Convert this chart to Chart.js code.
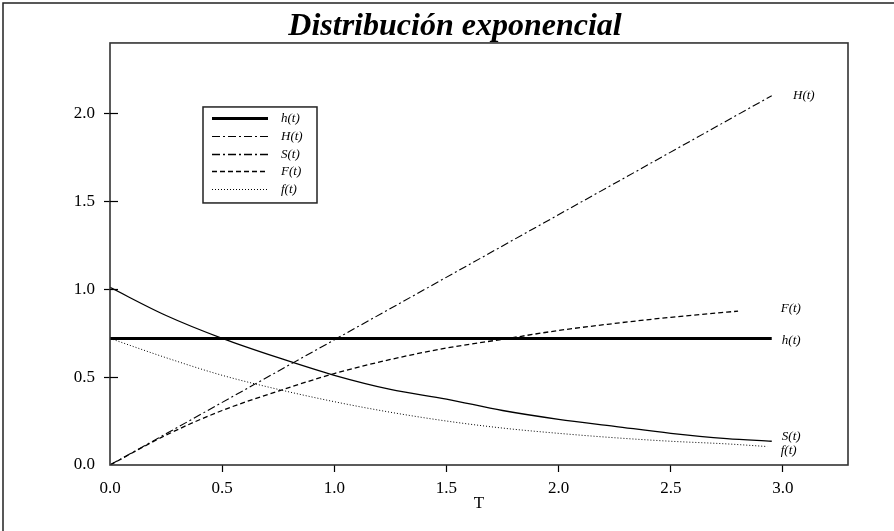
<!DOCTYPE html>
<html>
<head>
<meta charset="utf-8">
<script src="https://cdn.jsdelivr.net/npm/chart.js@4.4.1/dist/chart.umd.min.js"></script>
<style>
html,body{margin:0;padding:0;background:#fff;}
#wrap{width:894px;height:531px;}
</style>
</head>
<body>
<div id="wrap"><canvas id="c" width="894" height="531"></canvas></div>
<script>
// ---------- data ----------
const chartTitle = 'Distribución exponencial';
const xAxisTitle = 'T';
const seriesLabels = ['h(t)', 'H(t)', 'S(t)', 'F(t)', 'f(t)'];

const t_h = [0, 2.95];
const h_vals = [0.72, 0.72];

const t_H = [0, 2.95];
const H_vals = [0, 2.10];

const t_S = [0, 0.25, 0.5, 0.75, 1.0, 1.25, 1.5, 1.75, 2.0, 2.25, 2.5, 2.75, 2.95];
const S_vals = [1.01, 0.85, 0.72, 0.61, 0.51, 0.43, 0.375, 0.31, 0.26, 0.22, 0.18, 0.15, 0.135];

const t_F = [0, 0.25, 0.5, 0.75, 1.0, 1.25, 1.5, 1.75, 2.0, 2.25, 2.5, 2.8];
const F_vals = [0, 0.17, 0.31, 0.42, 0.52, 0.60, 0.665, 0.715, 0.765, 0.805, 0.84, 0.875];

const t_f = [0, 0.25, 0.5, 0.75, 1.0, 1.25, 1.5, 1.75, 2.0, 2.25, 2.5, 2.75, 2.93];
const f_vals = [0.72, 0.61, 0.51, 0.43, 0.36, 0.30, 0.25, 0.21, 0.18, 0.155, 0.135, 0.12, 0.105];

// end-of-curve labels (data coordinates)
const endLabelText = ['H(t)', 'F(t)', 'h(t)', 'S(t)', 'f(t)'];
const endLabelX = [3.045, 2.99, 2.995, 2.995, 2.99];
const endLabelY = [2.10, 0.89, 0.705, 0.16, 0.08];

const xMin = 0, xMax = 3.29, yMin = 0, yMax = 2.4, tickStep = 0.5;

// ---------- helpers ----------
const pts = (xs, ys) => xs.map((x, i) => ({x: x, y: ys[i]}));
const SERIF = '"Liberation Serif", "Times New Roman", serif';

const datasets = [
  {label: seriesLabels[0], data: pts(t_h, h_vals), borderWidth: 3, borderDash: []},
  {label: seriesLabels[1], data: pts(t_H, H_vals), borderWidth: 1.1, borderDash: [8, 3, 2, 3]},
  {label: seriesLabels[2], data: pts(t_S, S_vals), borderWidth: 1.3, borderDash: [], legendDash: [8, 3, 2, 3]},
  {label: seriesLabels[3], data: pts(t_F, F_vals), borderWidth: 1.3, borderDash: [5, 3]},
  {label: seriesLabels[4], data: pts(t_f, f_vals), borderWidth: 1, borderDash: [1, 2]}
].map(d => Object.assign({
  borderColor: '#000', backgroundColor: '#000', pointRadius: 0, fill: false,
  cubicInterpolationMode: 'monotone', borderCapStyle: 'butt'
}, d));

const decorPlugin = {
  id: 'decor',
  beforeDraw(chart) {
    const ctx = chart.ctx;
    ctx.save();
    ctx.fillStyle = '#fff';
    ctx.fillRect(0, 0, chart.width, chart.height);
    ctx.restore();
  },
  afterDraw(chart) {
    const ctx = chart.ctx;
    const a = chart.chartArea;
    const xs = chart.scales.x, ys = chart.scales.y;
    ctx.save();
    // outer border (top + left)
    ctx.strokeStyle = '#222';
    ctx.lineWidth = 1.5;
    ctx.beginPath();
    ctx.moveTo(3, chart.height);
    ctx.lineTo(3, 3);
    ctx.lineTo(chart.width, 3);
    ctx.stroke();
    // plot frame
    ctx.strokeStyle = '#333';
    ctx.lineWidth = 1.6;
    ctx.strokeRect(a.left, a.top, a.right - a.left, a.bottom - a.top);
    // inward y ticks
    ctx.strokeStyle = '#000';
    ctx.lineWidth = 1.2;
    ys.ticks.forEach(tk => {
      if (tk.value === 0) return;
      const py = Math.round(ys.getPixelForValue(tk.value)) + 0.5;
      ctx.beginPath();
      ctx.moveTo(a.left, py);
      ctx.lineTo(a.left + 8, py);
      ctx.stroke();
    });
    // end labels
    ctx.fillStyle = '#000';
    ctx.font = 'italic 13px ' + SERIF;
    ctx.textAlign = 'left';
    ctx.textBaseline = 'middle';
    endLabelText.forEach((txt, i) => {
      ctx.fillText(txt, xs.getPixelForValue(endLabelX[i]), ys.getPixelForValue(endLabelY[i]));
    });
    // legend box
    const lx = a.left + 93, ly = a.top + 64, lw = 114, lh = 96;
    ctx.fillStyle = '#fff';
    ctx.fillRect(lx, ly, lw, lh);
    ctx.strokeStyle = '#222';
    ctx.lineWidth = 1.5;
    ctx.strokeRect(lx, ly, lw, lh);
    chart.data.datasets.forEach((ds, i) => {
      const ry = Math.round(ly + 11 + i * 17.8) + 0.5;
      ctx.strokeStyle = '#000';
      ctx.lineWidth = ds.borderWidth;
      ctx.setLineDash(ds.legendDash || ds.borderDash || []);
      ctx.beginPath();
      ctx.moveTo(lx + 9, ry);
      ctx.lineTo(lx + 65, ry);
      ctx.stroke();
      ctx.setLineDash([]);
      ctx.fillStyle = '#000';
      ctx.font = 'italic 13px ' + SERIF;
      ctx.textAlign = 'left';
      ctx.textBaseline = 'middle';
      ctx.fillText(ds.label, lx + 78, ry);
    });
    ctx.restore();
  }
};

new Chart(document.getElementById('c'), {
  type: 'line',
  data: {datasets: datasets},
  options: {
    responsive: false,
    animation: false,
    devicePixelRatio: 1,
    layout: {padding: {left: 16, right: 0, top: 0, bottom: 0}},
    plugins: {
      legend: {display: false},
      tooltip: {enabled: false},
      title: {
        display: true, text: chartTitle, color: '#000',
        font: {family: SERIF, size: 32, weight: 'bold', style: 'italic', lineHeight: 1.03},
        padding: {top: 10, bottom: 0}
      }
    },
    scales: {
      x: {
        type: 'linear', min: xMin, max: xMax,
        afterFit(s) { s.height = 66; },
        border: {display: false},
        grid: {
          drawOnChartArea: false, tickLength: 7, tickWidth: 1.2,
          color: ctx => (ctx.tick && ctx.tick.value === 0) ? 'rgba(0,0,0,0)' : '#000'
        },
        ticks: {
          stepSize: tickStep, includeBounds: false, padding: 6, color: '#000',
          font: {family: SERIF, size: 17},
          callback: v => Number(v).toFixed(1), maxRotation: 0
        },
        title: {display: true, text: xAxisTitle, color: '#000', font: {family: SERIF, size: 17}, padding: {top: 0, bottom: 17}}
      },
      y: {
        type: 'linear', min: yMin, max: yMax,
        afterFit(s) { s.width = 94; },
        border: {display: false},
        grid: {
          drawOnChartArea: false, tickLength: 6, tickWidth: 1.2,
          color: ctx => (ctx.tick && ctx.tick.value === 0) ? 'rgba(0,0,0,0)' : '#000'
        },
        ticks: {
          stepSize: tickStep, includeBounds: false, padding: 9, color: '#000',
          font: {family: SERIF, size: 17},
          callback: v => Number(v).toFixed(1)
        }
      },
      yRightSpace: {
        type: 'linear', position: 'right', min: yMin, max: yMax,
        afterFit(s) { s.width = 46; },
        border: {display: false},
        grid: {display: false},
        ticks: {display: false}
      }
    }
  },
  plugins: [decorPlugin]
});
</script>
</body>
</html>
